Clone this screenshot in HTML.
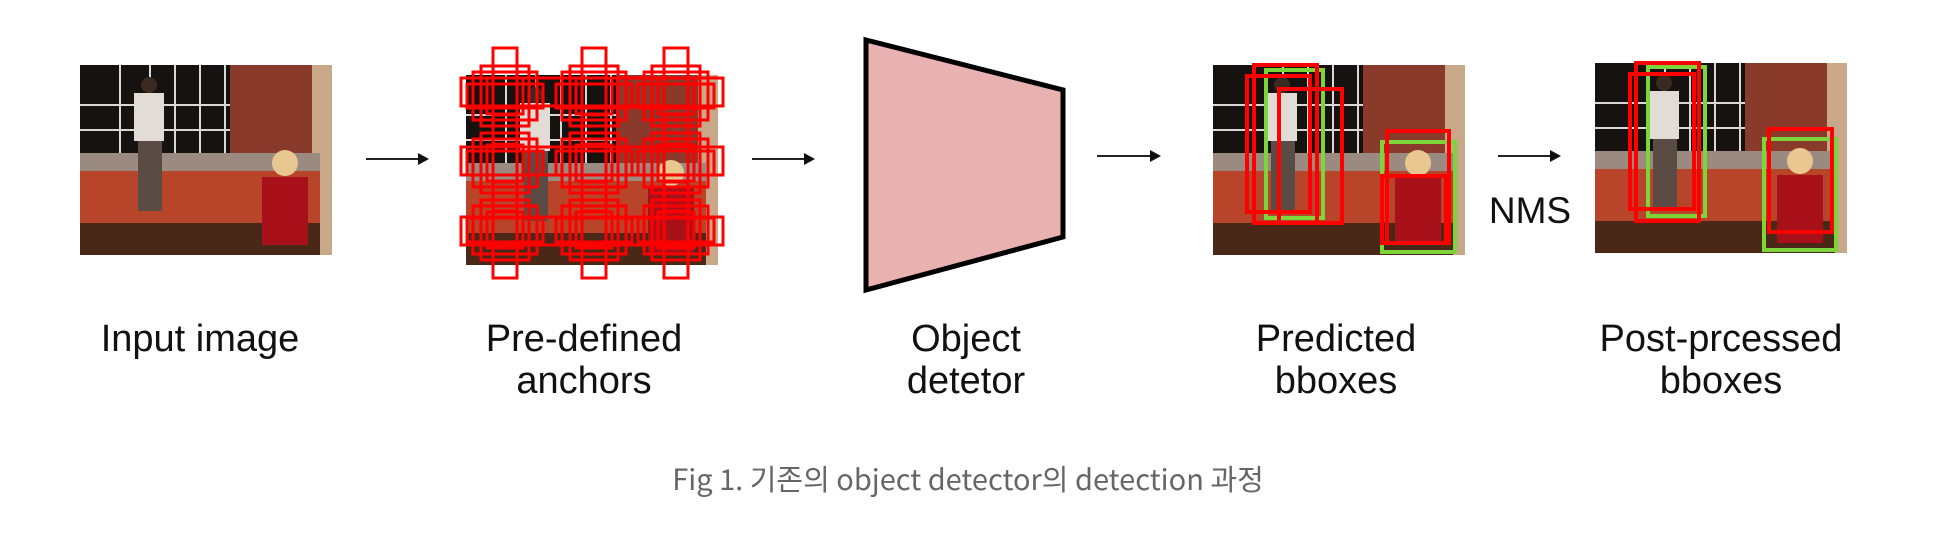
<!DOCTYPE html>
<html><head><meta charset="utf-8"><style>
html,body{margin:0;padding:0;background:#fff;width:1957px;height:549px;overflow:hidden}
</style></head><body>
<svg width="1957" height="549" viewBox="0 0 1957 549" xmlns="http://www.w3.org/2000/svg">
<defs>
<g id="photo">
  <rect x="0" y="0" width="252" height="190" fill="#5a2a1a"/>
  <rect x="0" y="0" width="252" height="100" fill="#151210"/>
  <rect x="150" y="0" width="90" height="100" fill="#8a3a2a"/>
  <rect x="232" y="0" width="20" height="190" fill="#c9a88a"/>
  <g stroke="#d8d8d8" stroke-width="2" fill="none">
    <line x1="0" y1="40" x2="150" y2="40"/><line x1="0" y1="65" x2="150" y2="65"/>
    <line x1="40" y1="0" x2="40" y2="90"/><line x1="70" y1="0" x2="70" y2="90"/>
    <line x1="95" y1="0" x2="95" y2="90"/><line x1="120" y1="0" x2="120" y2="90"/>
    <line x1="145" y1="0" x2="145" y2="90"/><line x1="0" y1="90" x2="150" y2="90"/>
  </g>
  <rect x="0" y="88" width="240" height="18" fill="#9b8a80"/>
  <rect x="0" y="106" width="240" height="52" fill="#b8442a"/>
  <rect x="0" y="158" width="240" height="32" fill="#4a2818"/>
  <rect x="54" y="28" width="30" height="48" fill="#e2dcd6"/>
  <rect x="58" y="76" width="24" height="70" fill="#5a4c44"/>
  <circle cx="69" cy="20" r="8" fill="#3a2a20"/>
  <circle cx="205" cy="98" r="13" fill="#e8c890"/>
  <rect x="182" y="112" width="46" height="68" fill="#a8101a"/>
</g>
<g id="anc" fill="none" stroke="#ff0000" stroke-width="3">
  <rect x="-12" y="-48" width="24" height="96"/>
  <rect x="-24" y="-30" width="48" height="60"/>
  <rect x="-18" y="-18" width="36" height="36"/>
  <rect x="-38" y="-12" width="76" height="24"/>
  <rect x="-32" y="-24" width="64" height="48"/>
</g>
</defs>

<use href="#photo" x="80" y="65"/>
<g stroke="#222" stroke-width="2"><line x1="366" y1="159" x2="420" y2="159"/><line x1="752" y1="159" x2="806" y2="159"/><line x1="1097" y1="156" x2="1152" y2="156"/><line x1="1498" y1="156" x2="1552" y2="156"/></g>
<g fill="#111"><polygon points="429,159 418,153 418,165"/><polygon points="815,159 804,153 804,165"/><polygon points="1161,156 1150,150 1150,162"/><polygon points="1561,156 1550,150 1550,162"/></g>

<use href="#photo" x="466" y="75"/>
<g>
<use href="#anc" x="505" y="96"/><use href="#anc" x="594" y="96"/><use href="#anc" x="676" y="96"/>
<use href="#anc" x="505" y="163"/><use href="#anc" x="594" y="163"/><use href="#anc" x="676" y="163"/>
<use href="#anc" x="505" y="230"/><use href="#anc" x="594" y="230"/><use href="#anc" x="676" y="230"/>
<rect x="461" y="78" width="262" height="28" fill="none" stroke="#ff0000" stroke-width="3"/>
<rect x="461" y="147" width="262" height="28" fill="none" stroke="#ff0000" stroke-width="3"/>
<rect x="461" y="217" width="262" height="28" fill="none" stroke="#ff0000" stroke-width="3"/>
</g>

<polygon points="866,40 1063,90 1063,237 866,290" fill="#e9b2b0" stroke="#000" stroke-width="5" stroke-linejoin="miter"/>

<g transform="translate(1213,65)">
  <use href="#photo"/>
  <g fill="none" stroke-width="4">
    <rect x="53" y="5" width="57" height="148" stroke="#7cd63a"/>
    <rect x="169" y="77" width="73" height="110" stroke="#7cd63a"/>
    <rect x="41" y="0" width="63" height="158" stroke="#ff0000"/>
    <rect x="34" y="11" width="63" height="136" stroke="#ff0000"/>
    <rect x="66" y="24" width="63" height="134" stroke="#ff0000"/>
    <rect x="174" y="66" width="62" height="112" stroke="#ff0000"/>
    <rect x="169" y="111" width="64" height="67" stroke="#ff0000"/>
  </g>
</g>
<text x="1530" y="223" font-family="Liberation Sans, sans-serif" font-size="37" text-anchor="middle" fill="#111">NMS</text>

<g transform="translate(1595,63)">
  <use href="#photo"/>
  <g fill="none" stroke-width="4">
    <rect x="53" y="4" width="57" height="149" stroke="#7cd63a"/>
    <rect x="169" y="76" width="72" height="111" stroke="#7cd63a"/>
    <rect x="41" y="0" width="63" height="158" stroke="#ff0000"/>
    <rect x="35" y="11" width="64" height="135" stroke="#ff0000"/>
    <rect x="174" y="66" width="63" height="103" stroke="#ff0000"/>
  </g>
</g>

<g font-family="Liberation Sans, sans-serif" font-size="38" text-anchor="middle" fill="#111">
<text x="200" y="351">Input image</text>
<text x="584" y="351">Pre-defined</text><text x="584" y="393">anchors</text>
<text x="966" y="351">Object</text><text x="966" y="393">detetor</text>
<text x="1336" y="351">Predicted</text><text x="1336" y="393">bboxes</text>
<text x="1721" y="351">Post-prcessed</text><text x="1721" y="393">bboxes</text>
</g>
<text x="968" y="490" font-family="Noto Sans CJK KR, sans-serif" font-size="29" text-anchor="middle" fill="#666">Fig 1. 기존의 object detector의 detection 과정</text>
</svg>
</body></html>
